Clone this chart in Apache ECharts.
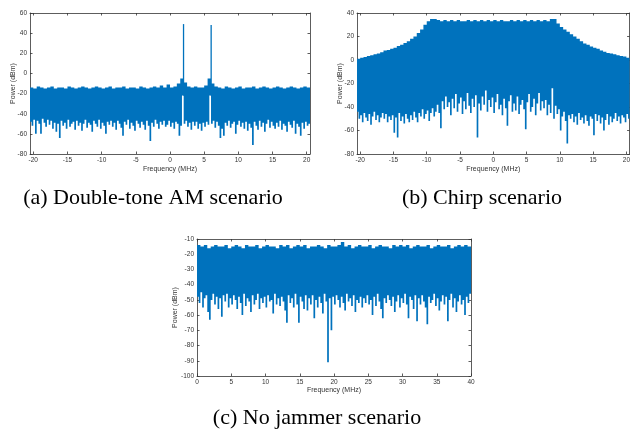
<!DOCTYPE html>
<html>
<head>
<meta charset="utf-8">
<script src="https://cdn.jsdelivr.net/npm/echarts@6/dist/echarts.min.js"></script>
<style>
html, body { margin: 0; padding: 0; background: #fff; }
#chart { width: 633px; height: 432px; }
</style>
</head>
<body>
<div id="chart"></div>
<script>
// spectra are stored as per-bin lows (0.25 MHz bins) and per-bin highs (0.5 MHz bins)
const binStep = 0.25;

// (a) double-tone AM, bins from -20.5 MHz
const amStart = -20.5;
const amLow = [
  -48,-52,-46,-60,-47,-50,-60,-45,-49,-53,-46,-51,-47,-55,-49,-58,
  -50,-64,-47,-52,-49,-55,-46,-53,-50,-48,-56,-47,-52,-49,-57,-50,
  -46,-54,-49,-51,-58,-47,-50,-53,-46,-55,-49,-52,-60,-48,-51,-47,
  -53,-49,-56,-47,-50,-54,-62,-48,-51,-46,-55,-49,-52,-57,-47,-50,
  -54,-48,-51,-56,-47,-52,-67,-49,-53,-46,-50,-55,-48,-51,-47,-53,
  -51,-47,-53,-49,-55,-48,-50,-62,-52,-22,-50,-47,-53,-49,-56,-48,
  -52,-48,-55,-50,-57,-49,-53,-48,-51,-22,-50,-47,-54,-48,-52,-64,
  -55,-62,-49,-52,-47,-54,-50,-48,-60,-51,-47,-53,-49,-55,-48,-57,
  -50,-54,-71,-48,-52,-56,-47,-53,-49,-58,-50,-46,-54,-48,-52,-55,
  -49,-53,-47,-56,-50,-52,-58,-48,-51,-54,-47,-60,-50,-53,-62,-49,
  -55,-48,-52,-50
];
const amHigh = [
  -14,-15,-13,-14,-15,-14,-13,-15,-14,-14,
  -15,-13,-14,-15,-14,-13,-14,-15,-14,-13,
  -14,-15,-14,-13,-15,-14,-14,-13,-15,-14,
  -14,-15,-13,-14,-15,-14,-13,-14,-12,-14,
  -11,-14,-13,-10,-5,-9,-13,-14,-13,-14,
  -14,-12,-5,-10,-13,-14,-15,-13,-14,-15,
  -14,-13,-15,-14,-14,-13,-15,-14,-13,-14,
  -15,-14,-13,-14,-15,-14,-13,-14,-15,-14,
  -13,-14
];
const toneFreq = [1.98, 6.02];
const tonePeak = [49, 48];
const toneFloor = [-22, -22];

// (b) chirp
const chirpStart = -20.5;
const chirpLow = [
  -44,-50,-47,-53,-45,-49,-52,-46,-55,-48,-44,-51,-47,-53,-49,-45,
  -50,-46,-53,-48,-51,-47,-62,-49,-66,-45,-52,-48,-54,-46,-50,-53,
  -47,-51,-44,-49,-53,-45,-48,-42,-50,-46,-43,-52,-45,-41,-48,-44,
  -38,-45,-58,-35,-42,-31,-40,-36,-47,-33,-41,-29,-44,-37,-32,-46,
  -35,-42,-28,-39,-45,-33,-40,-30,-66,-37,-43,-31,-38,-26,-44,-34,
  -40,-32,-45,-36,-29,-42,-38,-47,-33,-41,-56,-35,-30,-44,-37,-43,
  -31,-46,-38,-34,-42,-59,-36,-29,-44,-40,-33,-47,-37,-28,-43,-35,
  -41,-34,-47,-38,-45,-24,-50,-39,-46,-42,-60,-48,-44,-52,-71,-47,
  -50,-46,-53,-48,-55,-45,-51,-49,-54,-47,-52,-56,-48,-50,-64,-46,
  -52,-47,-54,-49,-60,-51,-46,-55,-48,-53,-50,-45,-52,-48,-54,-47,
  -49,-53,-46,-50
];
const chirpHigh = [
  1,2,2.5,3.5,4,5,5.5,6.5,8,8.5,
  9.5,10.5,12,13,14.5,16,18,20,23,26,
  30,33,35,35,34,33,34,33,34,33,
  34,33,33,34,33,34,33,34,33,34,
  33,34,33,34,33,33,34,33,34,33,
  34,33,34,33,34,33,34,33,35,35,
  31,28,26,24,22,20,18,16,14,13,
  11.5,10.5,9.5,8,7,6,5.5,5,4,3.5,
  3,2
];

// (c) no jammer, bins from 0 MHz
const quietStart = 0;
const quietLow = [
  -48,-52,-45,-55,-49,-47,-58,-63,-50,-46,-53,-48,-56,-49,-61,-47,
  -51,-46,-55,-49,-53,-47,-50,-56,-48,-52,-60,-46,-54,-49,-51,-58,
  -47,-53,-50,-46,-56,-49,-52,-48,-55,-47,-51,-50,-59,-46,-53,-49,
  -54,-48,-51,-57,-65,-47,-52,-49,-55,-46,-53,-65,-48,-51,-56,-47,
  -57,-49,-53,-47,-62,-50,-55,-48,-52,-59,-46,-51,-91,-49,-70,-48,
  -53,-47,-50,-55,-48,-52,-57,-46,-51,-49,-54,-47,-58,-50,-52,-48,
  -55,-49,-52,-47,-53,-50,-60,-48,-54,-46,-51,-56,-62,-49,-52,-47,
  -50,-54,-48,-58,-51,-47,-55,-49,-52,-46,-53,-62,-48,-50,-56,-47,
  -64,-49,-53,-47,-51,-55,-66,-48,-52,-50,-46,-54,-49,-57,-51,-47,
  -53,-48,-64,-50,-46,-55,-49,-58,-51,-47,-53,-50,-60,-48,-52,-46
];
const quietHigh = [
  -14,-15,-14,-16,-15,-14,-15,-15,-14,-16,
  -15,-14,-15,-16,-14,-15,-15,-14,-16,-15,
  -14,-15,-15,-16,-14,-15,-14,-16,-15,-14,
  -15,-14,-16,-15,-15,-14,-15,-16,-14,-15,
  -15,-14,-12,-15,-14,-16,-15,-14,-15,-15,
  -14,-16,-15,-14,-15,-15,-16,-14,-15,-14,
  -15,-14,-16,-15,-14,-15,-15,-14,-16,-15,
  -14,-15,-15,-14,-16,-15,-14,-15,-14,-15
];

// tick labels
const freqTicksAB = [-20, -15, -10, -5, 0, 5, 10, 15, 20];
const freqTicksC = [0, 5, 10, 15, 20, 25, 30, 35, 40];
const amYTicks = [-80, -60, -40, -20, 0, 20, 40, 60];
const chirpYTicks = [-80, -60, -40, -20, 0, 20, 40];
const quietYTicks = [-100, -90, -80, -70, -60, -50, -40, -30, -20, -10];

const captions = ['(a) Double-tone AM scenario', '(b) Chirp scenario', '(c) No jammer scenario'];

const BLUE = '#0072bd';
const AXIS = '#333333';
const SANS = 'Liberation Sans';

function bandData(start, low, high) {
  return low.map((v, i) => [start + (i + 0.5) * binStep, v, high[Math.floor(i / 2)]]);
}

// the whole band is one stepped polygon: highs left->right, lows right->left
function bandRenderer(data, xMin, xMax) {
  return function (params, api) {
    if (params.dataIndex !== 0) return null;
    const half = binStep / 2;
    const clampX = v => Math.min(xMax, Math.max(xMin, v));
    const pts = [];
    data.forEach(d => {
      pts.push(api.coord([clampX(d[0] - half), d[2]]));
      pts.push(api.coord([clampX(d[0] + half), d[2]]));
    });
    for (let i = data.length - 1; i >= 0; i--) {
      const d = data[i];
      pts.push(api.coord([clampX(d[0] + half), d[1]]));
      pts.push(api.coord([clampX(d[0] - half), d[1]]));
    }
    return { type: 'polygon', shape: { points: pts }, style: { fill: BLUE } };
  };
}

function renderTone(params, api) {
  const top = api.coord([api.value(0), api.value(2)]);
  const bot = api.coord([api.value(0), api.value(1)]);
  return { type: 'rect', shape: { x: top[0] - 0.65, y: top[1], width: 1.3, height: bot[1] - top[1] }, style: { fill: BLUE } };
}

function xAxes(grid, min, max, ticks, nameGap) {
  const base = {
    gridIndex: grid, type: 'value', min: min, max: max,
    splitLine: { show: false },
    axisLine: { show: true, onZero: false, lineStyle: { color: AXIS, width: 0.8 } },
    axisTick: { show: true, inside: true, length: 2.5, customValues: ticks, lineStyle: { color: AXIS, width: 0.8 } }
  };
  return [
    Object.assign({}, base, {
      position: 'bottom',
      name: 'Frequency (MHz)', nameLocation: 'middle', nameGap: nameGap, nameMoveOverlap: false,
      nameTextStyle: { fontSize: 7, color: AXIS, fontFamily: SANS },
      axisLabel: { customValues: ticks, fontSize: 6.5, color: AXIS, margin: 3, fontFamily: SANS }
    }),
    Object.assign({}, base, { position: 'top', axisLabel: { show: false } })
  ];
}

function yAxes(grid, min, max, ticks, nameGap) {
  const base = {
    gridIndex: grid, type: 'value', min: min, max: max,
    splitLine: { show: false },
    axisLine: { show: true, onZero: false, lineStyle: { color: AXIS, width: 0.8 } },
    axisTick: { show: true, inside: true, length: 2.5, customValues: ticks, lineStyle: { color: AXIS, width: 0.8 } }
  };
  return [
    Object.assign({}, base, {
      position: 'left',
      name: 'Power (dBm)', nameLocation: 'middle', nameGap: nameGap, nameMoveOverlap: false,
      nameTextStyle: { fontSize: 7, color: AXIS, fontFamily: SANS },
      axisLabel: { customValues: ticks, fontSize: 6.5, color: AXIS, margin: 3, fontFamily: SANS }
    }),
    Object.assign({}, base, { position: 'right', axisLabel: { show: false } })
  ];
}

const amData = bandData(amStart, amLow, amHigh);
const chirpData = bandData(chirpStart, chirpLow, chirpHigh);
const quietData = bandData(quietStart, quietLow, quietHigh);

const chart = echarts.init(document.getElementById('chart'), null, { renderer: 'canvas' });

const captionStyle = { align: 'center', verticalAlign: 'middle', fontSize: 22, fontFamily: 'Liberation Serif', fill: '#000' };

const option = {
  animation: false,
  backgroundColor: '#fff',
  grid: [
    { left: 30, top: 13, width: 280, height: 141 },
    { left: 357, top: 13, width: 279, height: 141 },
    { left: 197, top: 239, width: 274, height: 137 }
  ],
  xAxis: [].concat(
    xAxes(0, -20.48, 20.48, freqTicksAB, 12),
    xAxes(1, -20.48, 20.48, freqTicksAB, 12),
    xAxes(2, 0, 40, freqTicksC, 11)
  ),
  yAxis: [].concat(
    yAxes(0, -80, 60, amYTicks, 13.5),
    yAxes(1, -80, 40, chirpYTicks, 13.5),
    yAxes(2, -100, -10, quietYTicks, 18.5)
  ),
  series: [
    { type: 'custom', xAxisIndex: 0, yAxisIndex: 0, renderItem: bandRenderer(amData, -20.48, 20.48), data: amData },
    { type: 'custom', xAxisIndex: 0, yAxisIndex: 0, renderItem: renderTone,
      data: toneFreq.map((f, i) => [f, toneFloor[i], tonePeak[i]]) },
    { type: 'custom', xAxisIndex: 2, yAxisIndex: 2, renderItem: bandRenderer(chirpData, -20.48, 20.48), data: chirpData },
    { type: 'custom', xAxisIndex: 4, yAxisIndex: 4, renderItem: bandRenderer(quietData, 0, 40), data: quietData }
  ],
  graphic: [
    { type: 'text', x: 153, y: 198, style: Object.assign({ text: captions[0] }, captionStyle) },
    { type: 'text', x: 482, y: 198, style: Object.assign({ text: captions[1] }, captionStyle) },
    { type: 'text', x: 317, y: 418, style: Object.assign({ text: captions[2] }, captionStyle) }
  ]
};

chart.setOption(option);
</script>
</body>
</html>
